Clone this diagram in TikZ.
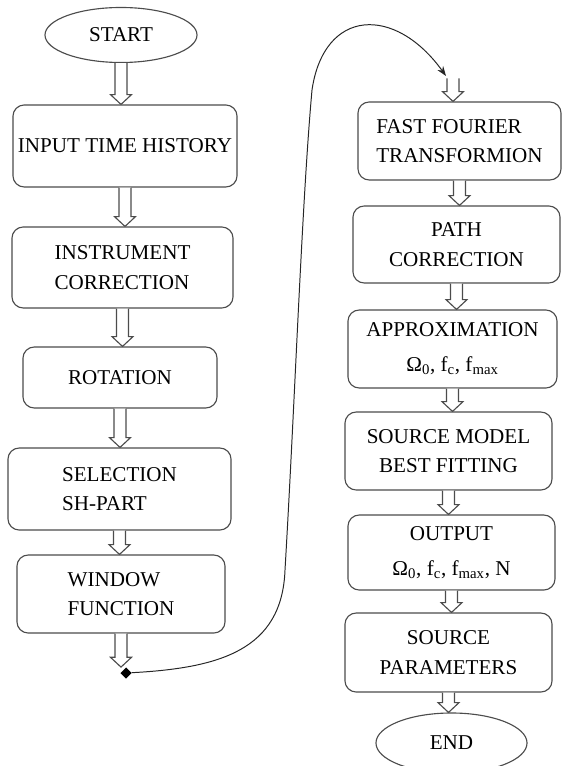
\documentclass[tikz,border=0pt]{standalone}
\usepackage{fontspec}
\setmainfont{Liberation Serif}
\usetikzlibrary{shapes.geometric,arrows.meta,calc}

\tikzset{
  stage/.style={draw=black!70,line width=0.8pt,rounded corners=0.28cm,font=\fontsize{15}{21}\selectfont,inner sep=2pt},
  term/.style={draw=black!70,line width=0.8pt,ellipse,font=\fontsize{15}{21}\selectfont,inner sep=0pt},
  hollow/.style={draw=black!70,line width=0.8pt,fill=white},
  jumpline/.style={draw=black!85,line width=0.7pt,-{Stealth[length=7pt,width=5pt]}}
}
% shaft and head of the hollow arrows
\def\shaftw{4.3pt}
\def\headw{7.5pt}
\def\headl{7pt}
\newcommand{\flow}[2]{%
  \draw[hollow] let \p1=(#1.south), \p2=(#2.north) in
    (\x1-\shaftw,\y1) -- (\x1-\shaftw,\y2+\headl) -- (\x1-\headw,\y2+\headl) -- (\x1,\y2)
    -- (\x1+\headw,\y2+\headl) -- (\x1+\shaftw,\y2+\headl) -- (\x1+\shaftw,\y1);}

\begin{document}
\begin{tikzpicture}[x=0.025cm,y=-0.025cm]
  \useasboundingbox (0,0) rectangle (562,766);

  % left column
  \node[term,minimum width=3.8cm,minimum height=1.375cm] (start) at (121,35) {START};
  \node[stage,minimum width=5.6cm,minimum height=2.05cm] (inp) at (125,146) {INPUT TIME HISTORY};
  \node[stage,minimum width=5.525cm,minimum height=2.025cm,align=left] (instr) at (122.5,267.5) {INSTRUMENT\\CORRECTION};
  \node[stage,minimum width=4.85cm,minimum height=1.525cm] (rot) at (120,377.5) {ROTATION};
  \node[stage,minimum width=5.575cm,minimum height=2.05cm,align=left] (sel) at (119.5,489) {SELECTION\\SH-PART};
  \node[stage,minimum width=5.2cm,minimum height=1.95cm,align=left] (win) at (121,594) {WINDOW\\FUNCTION};
  \node[diamond,fill=black,inner sep=0pt,minimum width=8pt,minimum height=8pt] (jump) at (126,673) {};

  % right column
  \node[inner sep=0pt,minimum size=0pt] (top) at (453,78) {};
  \coordinate (land) at (446,76);
  \node[stage,minimum width=5.075cm,minimum height=1.95cm,align=left] (fft) at (459.5,141) {FAST FOURIER\\TRANSFORMION};
  \node[stage,minimum width=5.175cm,minimum height=1.925cm,align=center] (path) at (456.5,244.5) {PATH\\CORRECTION};
  \node[stage,minimum width=5.225cm,minimum height=1.95cm,align=center] (approx) at (452.5,349)
    {APPROXIMATION\\[4pt]Ω\textsubscript{0}, f\textsubscript{c}, f\textsubscript{max}};
  \node[stage,minimum width=5.175cm,minimum height=1.95cm,align=center] (srcm) at (448.5,451) {SOURCE MODEL\\BEST FITTING};
  \node[stage,minimum width=5.175cm,minimum height=1.875cm,align=center] (out) at (451.5,552.5)
    {OUTPUT\\[4pt]Ω\textsubscript{0}, f\textsubscript{c}, f\textsubscript{max}, N};
  \node[stage,minimum width=5.175cm,minimum height=1.975cm,align=center] (srcp) at (448.5,652.5) {SOURCE\\PARAMETERS};
  \node[term,minimum width=3.775cm,minimum height=1.5cm] (end) at (451.5,743) {END};

  \foreach \a/\b in {start/inp,inp/instr,instr/rot,rot/sel,sel/win,win/jump,
                     top/fft,fft/path,path/approx,approx/srcm,srcm/out,out/srcp,srcp/end}
    \flow{\a}{\b};

  % jump to the second column
  \draw[jumpline] (jump) .. controls (220,668) and (282,650) .. (285,570)
    .. controls (295,400) and (302,200) .. (312,90)
    .. controls (324,8) and (395,5) .. (land);
\end{tikzpicture}
\end{document}
